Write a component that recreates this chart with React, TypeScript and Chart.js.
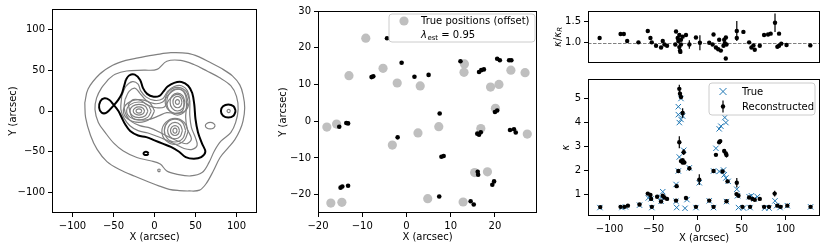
import React, { useEffect, useRef } from 'react';
import { Chart, registerables } from 'chart.js';
Chart.register(...registerables);

const FONT = "'DejaVu Sans', 'Liberation Sans', sans-serif";
const GRAY = '#808080';
const BLUE = '#1f77b4';

// ---------- tick labels ----------
const leftXTicks = [-100, -50, 0, 50, 100];
const leftYTicks = [-100, -50, 0, 50, 100];
const midXTicks = [-20, -10, 0, 10, 20];
const midYTicks = [-20, -10, 0, 10, 20, 30];
const ratioYTicks = [1.0, 1.5];
const kappaXTicks = [-100, -50, 0, 50, 100];
const kappaYTicks = [1, 2, 3, 4, 5];

// ---------- left panel: contour lines [x, y] (arcsec) ----------
const contourOuter = [[-85,10],[-81,27],[-67,45],[-51,56],[-35,62],[-20,65],[2,69],[20,71.5],[41,70.6],[55,66],[67,60],[82,52],[95,43],[104,32],[108,20],[110,4],[108,-12],[104,-24],[98,-35],[90,-45],[80,-57],[72,-73],[63,-89],[55,-97],[42,-98],[30,-97.5],[18,-96],[6,-92],[-7,-87],[-24,-80],[-42,-72],[-58,-62],[-70,-47],[-78,-30],[-84,-8],[-85,10]];
const contourSecond = [[-56,39],[-48,45],[-34,49],[-13,50],[3,51],[15,61],[32,62],[48,57],[64,49],[79,41],[93,31],[100,18],[102,2],[99,-14],[93,-26.5],[81,-37],[73,-49],[66.5,-63],[58,-75.5],[44,-79.6],[28,-77.6],[15,-73.5],[7,-65],[-5,-61],[-21.5,-57],[-38,-49],[-50,-39],[-60,-26.5],[-68.5,-14],[-72.6,2],[-70.6,16],[-64.4,28.6],[-56,39]];
const contourBlack = [[-35,38],[-31,43.5],[-24,44.5],[-17.5,38],[-14,28],[-9,21],[-1,17.5],[6,18.5],[11,24],[16,30],[24,34.5],[33,35.5],[41,31],[46,22],[48.5,8],[50,-10],[53,-26],[58,-40],[62,-50],[57,-56.5],[48,-58.5],[38,-56.5],[30,-50],[20,-44],[10,-40],[0,-36],[-10,-32],[-20,-30],[-29.7,-24.5],[-35.8,-16.3],[-40,-8],[-44,0],[-50.2,8],[-55,13.5],[-61,15.5],[-66,12],[-67.5,4],[-64.5,-2],[-58.5,-2],[-50.5,6],[-44,14],[-40,21],[-37.5,29],[-35,38]];
const contourBlackRight = [[99,0],[96.4,5.7],[90,8],[83.6,5.7],[81,0],[83.6,-5.7],[90,-8],[96.4,-5.7],[99,0]];
const contourBlackSmall = [[-7.4,-52],[-8.3,-50.6],[-10.4,-50],[-12.5,-50.6],[-13.4,-52],[-12.5,-53.4],[-10.4,-54],[-8.3,-53.4],[-7.4,-52]];
const contourGrayRight = [[92.5,0],[91.9,1.4],[90.5,2],[89.1,1.4],[88.5,0],[89.1,-1.4],[90.5,-2],[91.9,-1.4],[92.5,0]];
const contourGrayBlob = [[74,-18],[72.2,-15.2],[68,-14],[63.8,-15.2],[62,-18],[63.8,-20.8],[68,-22],[72.2,-20.8],[74,-18]];
const contourGrayDot = [[7,-72.7],[6.6,-71.6],[5.5,-71.2],[4.4,-71.6],[4,-72.7],[4.4,-73.8],[5.5,-74.2],[6.6,-73.8],[7,-72.7]];
const contourInner1 = [[-40,18],[-35,30],[-27,36],[-20,33],[-17,25],[-10,17],[0,13],[10,15],[16,24],[24,30],[33,31],[40,25],[43,12],[43,-5],[45,-20],[50,-33],[52,-42],[46,-47],[36,-46],[26,-41],[15,-36],[3,-31],[-8,-27],[-20,-24],[-30,-18],[-37,-9],[-41,2],[-40,18]];
const contourInner2 = [[-36,14],[-31,24],[-24,28],[-18,22],[-10,13],[0,9],[10,11],[17,20],[25,26],[33,26],[38,19],[39,6],[38,-8],[40,-22],[45,-34],[40,-40],[31,-38],[20,-33],[8,-27],[-5,-21],[-18,-18],[-28,-13],[-34,-6],[-37,4],[-36,14]];
const contourInner3 = [[-32,8],[-26,14],[-17,13],[-8,7],[2,4],[12,5],[18,14],[26,20],[33,18],[36,9],[34,0],[26,-3],[15,-2],[5,-6],[-5,-10],[-16,-11],[-27,-8],[-32,8]];
const contourA5 = [[0,0],[-5.6,9.9],[-19,14],[-32.4,9.9],[-38,0],[-32.4,-9.9],[-19,-14],[-5.6,-9.9],[0,0]];
const contourA1 = [[-4,0],[-8.4,7.8],[-19,11],[-29.6,7.8],[-34,0],[-29.6,-7.8],[-19,-11],[-8.4,-7.8],[-4,0]];
const contourA2 = [[-8,0],[-11.2,5.7],[-19,8],[-26.8,5.7],[-30,0],[-26.8,-5.7],[-19,-8],[-11.2,-5.7],[-8,0]];
const contourA3 = [[-12,0],[-14,3.5],[-19,5],[-24,3.5],[-26,0],[-24,-3.5],[-19,-5],[-14,-3.5],[-12,0]];
const contourA4 = [[-15.5,0],[-16.5,1.8],[-19,2.5],[-21.5,1.8],[-22.5,0],[-21.5,-1.8],[-19,-2.5],[-16.5,-1.8],[-15.5,0]];
const contourB5 = [[43,12],[38.6,24],[28,29],[17.4,24],[13,12],[17.4,1],[28,-3],[38.6,1],[43,12]];
const contourB1 = [[41,11],[37.2,22.3],[28,27],[18.8,22.3],[15,11],[18.8,-0.3],[28,-5],[37.2,-0.3],[41,11]];
const contourB2 = [[37,11],[34.4,18.8],[28,22],[21.6,18.8],[19,11],[21.6,3.2],[28,0],[34.4,3.2],[37,11]];
const contourB3 = [[33.5,11],[31.9,16],[28,18],[24.1,16],[22.5,11],[24.1,6],[28,4],[31.9,6],[33.5,11]];
const contourB4 = [[30.5,11],[29.8,13.1],[28,14],[26.2,13.1],[25.5,11],[26.2,8.9],[28,8],[29.8,8.9],[30.5,11]];
const contourC5 = [[41,-25],[36.3,-14],[25,-9],[13.7,-14],[9,-25],[13.7,-36],[25,-41],[36.3,-36],[41,-25]];
const contourC1 = [[38,-24],[34.2,-14.1],[25,-10],[15.8,-14.1],[12,-24],[15.8,-33.9],[25,-38],[34.2,-33.9],[38,-24]];
const contourC2 = [[34,-24],[31.4,-16.9],[25,-14],[18.6,-16.9],[16,-24],[18.6,-31.1],[25,-34],[31.4,-31.1],[34,-24]];
const contourC3 = [[30.5,-24],[28.9,-19.8],[25,-18],[21.1,-19.8],[19.5,-24],[21.1,-28.2],[25,-30],[28.9,-28.2],[30.5,-24]];
const contourC4 = [[27.5,-24],[26.8,-21.9],[25,-21],[23.2,-21.9],[22.5,-24],[23.2,-26.1],[25,-27],[26.8,-26.1],[27.5,-24]];

// ---------- middle panel ----------
const trueOffX = [-9.2,-13.0,-5.3,-2.1,3.1,13.0,13.1,19.0,20.9,23.6,26.8,20.1,-18.0,-15.8,2.6,-3.2,7.3,16.8,27.3,15.4,18.3,-17.1,-14.6,4.8,12.8];
const trueOffY = [22.6,12.4,14.4,10.4,9.6,13.3,15.6,9.3,10.0,13.9,13.2,3.5,-1.6,-0.8,-3.2,-6.5,-1.5,-2.0,-3.5,-14.0,-13.8,-22.3,-22.1,-21.1,-22.0];
const recPosX = [-4.4,-1.1,-7.9,-7.5,1.8,5.0,12.2,20.5,21.1,23.2,23.7,16.4,16.9,17.5,7.5,20.0,20.5,-15.2,-13.6,-13.2,-2.0,16.0,16.4,16.8,23.4,24.3,24.7,7.9,8.4,16.1,16.2,19.8,19.4,-14.9,-14.5,-13.2,7.4,14.5,15.2];
const recPosY = [22.6,15.9,12.0,12.2,12.1,12.6,16.3,17.0,16.6,16.6,16.6,13.4,13.9,14.1,2.1,2.5,2.9,-1.5,-0.5,-0.6,-4.4,-3.4,-3.7,-3.0,-2.4,-2.2,-3.1,-9.7,-9.5,-13.8,-14.6,-16.4,-17.3,-18.1,-17.8,-17.6,-20.5,-21.8,-22.7];
const lambdaEst = '0.95';

// ---------- right panels ----------
const trueKX = [-111,-86,-82,-66,-56,-53,-52,-41.5,-39.6,-41.5,-24.5,-23.8,-24.5,-21.9,-20.8,-21.9,-21.9,-20.8,-18.9,-18.9,-17,-15.8,-14.3,-12.1,-9.4,-1.9,1.9,13.2,18.1,18.1,20.8,24.5,26.4,30.9,32.1,29.4,30.2,32.1,34.7,24.5,32.8,44.5,45.3,46.4,52.1,58.5,61.1,64.2,67.9,59.6,76.2,81.1,87.9,89.8,93.6,101.9,128.3];
const trueK = [0.47,0.47,0.5,0.57,0.87,0.83,0.47,0.89,1.13,0.73,0.73,0.47,1.43,1.99,2.57,4.66,4.33,4.0,4.13,5.0,4.27,2.85,0.44,0.8,2.12,0.47,1.5,0.75,0.47,1.99,2.93,3.74,3.85,4.21,4.0,2.03,1.83,1.7,1.56,1.97,0.72,1.23,0.96,0.47,0.45,0.92,0.96,0.83,0.92,0.47,0.45,0.45,0.75,0.55,0.47,0.55,0.5];
const recKX = [-110.6,-87.5,-83,-79.2,-66,-56.6,-53.6,-52.8,-52,-46,-39.6,-41.5,-37.7,-34.7,-24.5,-23.8,-21.9,-20.8,-20.8,-20.0,-18.9,-18.9,-17,-17,-17,-15.8,-15.1,-13.2,-9.4,-1.9,1.9,13.2,18.1,20.8,18.1,24.5,25.7,28.3,30.2,32.1,32.8,34,32.8,44.5,44.2,46.4,50.9,58.5,62.3,64.9,70.6,59.6,75.5,81.1,87.5,90.6,94.3,101.9,128.3];
const recK = [0.49,0.5,0.5,0.55,0.6,1.05,0.99,0.83,0.5,0.92,0.96,0.72,0.89,0.83,0.76,1.36,1.99,3.18,5.4,5.2,5.06,2.4,2.44,2.34,4.4,2.77,2.34,0.87,2.1,0.5,1.63,0.76,1.99,2.66,0.5,3.18,3.23,1.97,2.82,2.72,2.65,1.56,0.73,1.5,1.03,0.96,0.5,0.89,0.83,0.79,0.83,0.5,0.5,0.5,1.05,0.55,0.5,0.55,0.5];
const recKErr = [0,0,0,0,0,0,0,0,0,0,0,0,0,0,0,0.08,0.05,0.25,0.17,0.1,0.08,0.05,0.05,0.05,0.2,0.12,0,0,0.1,0,0.22,0,0.05,0.05,0,0.05,0.05,0.05,0.08,0.08,0.1,0.05,0,0.2,0.05,0,0,0,0,0,0,0,0,0,0.12,0,0,0,0];
const ratioX = [-111.3,-87.5,-83.8,-80,-67.2,-56.6,-53.6,-52.1,-47.2,-41.5,-39.6,-37.7,-34.7,-24.5,-25.3,-22.6,-21.9,-20.8,-20,-20.8,-18.9,-18.9,-17,-19.6,-13.2,-9.4,-1.9,2.6,13.2,18.1,17,20.8,23.4,24.5,26.4,30.2,32.1,32.8,29.4,30.9,32,44.5,44.5,52,58.5,61.1,63.4,64.9,70.6,75.5,80,83,87.9,92.5,90.6,92.5,95,101,128];
const ratioV = [1.11,1.2,1.2,1.04,1.01,1.27,1.11,1.01,0.93,0.89,1.04,0.96,0.93,1.26,0.96,1.11,1.04,0.9,0.82,1.18,0.96,1.07,1.14,0.79,1.18,0.96,1.12,1.0,1.0,1.19,0.96,0.89,0.85,1.07,0.82,1.07,1.12,0.96,0.93,0.99,0.64,1.11,1.27,1.25,1.01,0.89,0.94,0.84,0.93,1.18,1.19,1.21,1.46,1.21,0.91,0.93,0.98,0.95,0.94];
const ratioErr = [0,0,0,0,0,0,0,0,0,0,0,0,0,0.02,0,0.02,0.02,0.03,0.02,0.03,0.03,0,0.02,0,0,0.1,0,0.17,0,0,0,0,0,0,0,0.03,0.03,0,0,0,0,0.03,0.23,0,0,0,0,0,0,0,0,0,0.21,0,0,0,0,0,0];
const ratioRef = 1.0;

// ---------- helpers ----------
const fmt = (dec: number) => (v: number) => {
  const s = Math.abs(v).toFixed(dec);
  return v < 0 ? '\u2212' + s : s;
};
const toPts = (arr: number[][]) => arr.map(([x, y]) => ({ x, y }));
const zipPts = (xs: number[], ys: number[]) => xs.map((x, i) => ({ x, y: ys[i] }));
const errPts = (xs: number[], ys: number[], es: number[]) => {
  const out: any[] = [];
  xs.forEach((x, i) => {
    if (es[i] > 0) {
      out.push({ x, y: ys[i] - es[i] }, { x, y: ys[i] + es[i] }, { x, y: null });
    }
  });
  return out;
};

function axis(o: any) {
  return {
    type: 'linear',
    display: o.display ?? true,
    min: o.min,
    max: o.max,
    afterBuildTicks: (s: any) => { s.ticks = o.ticks.map((v: number) => ({ value: v })); },
    afterFit: (s: any) => { if (o.horizontal) s.height = o.size; else s.width = o.size; },
    grid: { drawOnChartArea: false, drawTicks: true, tickLength: 4, tickColor: '#000', tickWidth: 1 },
    border: { display: false },
    ticks: {
      display: o.labels ?? true,
      color: '#000',
      font: { family: FONT, size: 10 },
      padding: 3,
      autoSkip: false,
      maxRotation: 0,
      minRotation: 0,
      callback: (v: number) => fmt(o.dec ?? 0)(v),
    },
    title: o.title
      ? {
          display: true,
          text: o.title,
          color: '#000',
          font: { family: FONT, size: 10, style: o.italic ? 'italic' : 'normal' },
          padding: o.horizontal ? { top: 0, bottom: o.tpad } : { top: o.tpad, bottom: 0 },
        }
      : { display: false },
  };
}

const boxPlugin = {
  id: 'box',
  afterDatasetsDraw(chart: any) {
    const { ctx, chartArea: a } = chart;
    ctx.save();
    ctx.strokeStyle = '#000';
    ctx.lineWidth = 1;
    ctx.strokeRect(Math.round(a.left) + 0.5, Math.round(a.top) + 0.5, Math.round(a.right - a.left) - 1, Math.round(a.bottom - a.top) - 1);
    ctx.restore();
  },
};

function legendBox(ctx: CanvasRenderingContext2D, x: number, y: number, w: number, h: number) {
  ctx.save();
  ctx.beginPath();
  const r = 3;
  ctx.moveTo(x + r, y);
  ctx.lineTo(x + w - r, y);
  ctx.arcTo(x + w, y, x + w, y + r, r);
  ctx.lineTo(x + w, y + h - r);
  ctx.arcTo(x + w, y + h, x + w - r, y + h, r);
  ctx.lineTo(x + r, y + h);
  ctx.arcTo(x, y + h, x, y + h - r, r);
  ctx.lineTo(x, y + r);
  ctx.arcTo(x, y, x + r, y, r);
  ctx.closePath();
  ctx.fillStyle = 'rgba(255,255,255,0.8)';
  ctx.fill();
  ctx.strokeStyle = '#cccccc';
  ctx.lineWidth = 1;
  ctx.stroke();
  ctx.restore();
}

const baseOpts = (scales: any, padding: any, plugins: any = {}) => ({
  animation: false,
  responsive: false,
  maintainAspectRatio: false,
  events: [],
  layout: { padding },
  plugins: { legend: { display: false }, tooltip: { enabled: false }, ...plugins },
  scales,
});

function contourDs(pts: number[][], color: string, width: number) {
  return {
    data: toPts(pts),
    showLine: true,
    borderColor: color,
    borderWidth: width,
    pointRadius: 0,
    tension: 0.35,
    fill: false,
  };
}

export default function App() {
  const leftRef = useRef<HTMLCanvasElement>(null);
  const midRef = useRef<HTMLCanvasElement>(null);
  const topRef = useRef<HTMLCanvasElement>(null);
  const botRef = useRef<HTMLCanvasElement>(null);

  useEffect(() => {
    document.body.style.margin = '0';
    const charts: Chart[] = [];

    // ---- left contour panel ----
    const grayContours = [contourOuter, contourSecond, contourInner1, contourInner2, contourInner3,
      contourA5, contourA1, contourA2, contourA3, contourA4,
      contourB5, contourB1, contourB2, contourB3, contourB4,
      contourC5, contourC1, contourC2, contourC3, contourC4,
      contourGrayRight, contourGrayBlob, contourGrayDot];
    const blackContours = [contourBlack, contourBlackRight, contourBlackSmall];
    charts.push(new Chart(leftRef.current!, {
      type: 'scatter',
      data: {
        datasets: [
          ...blackContours.map((c) => contourDs(c, '#000', 2)),
          ...grayContours.map((c) => contourDs(c, GRAY, 1.2)),
        ],
      },
      options: baseOpts({
        x: axis({ min: -125, max: 125, ticks: leftXTicks, horizontal: true, size: 38, title: 'X (arcsec)', tpad: 8 }),
        y: axis({ min: -125, max: 125, ticks: leftYTicks, horizontal: false, size: 52, title: 'Y (arcsec)', tpad: 7 }),
      }, { left: 0, top: 9, right: 13, bottom: 0 }),
      plugins: [boxPlugin],
    } as any));

    // ---- middle positions panel ----
    const midLegend = {
      id: 'midLegend',
      afterDraw(chart: any) {
        const { ctx, chartArea: a } = chart;
        const w = 146, h = 28;
        const x0 = a.right - 2 - w, y0 = a.top + 3;
        legendBox(ctx, x0, y0, w, h);
        ctx.save();
        ctx.fillStyle = '#bfbfbf';
        ctx.beginPath();
        ctx.arc(x0 + 15, y0 + 7, 4.6, 0, Math.PI * 2);
        ctx.fill();
        ctx.fillStyle = '#000';
        ctx.textBaseline = 'middle';
        ctx.font = `10px ${FONT}`;
        ctx.fillText('True positions (offset)', x0 + 32, y0 + 7.5);
        let tx = x0 + 32;
        const ty = y0 + 21.5;
        ctx.font = `italic 10px ${FONT}`;
        ctx.fillText('\u03bb', tx, ty);
        tx += ctx.measureText('\u03bb').width;
        ctx.font = `7px ${FONT}`;
        ctx.fillText('est', tx + 0.5, ty + 2.5);
        tx += ctx.measureText('est').width + 0.5;
        ctx.font = `10px ${FONT}`;
        ctx.fillText(' = ' + lambdaEst, tx, ty);
        ctx.restore();
      },
    };
    charts.push(new Chart(midRef.current!, {
      type: 'scatter',
      data: {
        datasets: [
          { data: zipPts(recPosX, recPosY), pointRadius: 2.3, backgroundColor: '#000', borderWidth: 0 },
          { data: zipPts(trueOffX, trueOffY), pointRadius: 4.6, backgroundColor: '#bfbfbf', borderWidth: 0 },
        ],
      },
      options: baseOpts({
        x: axis({ min: -20, max: 29.5, ticks: midXTicks, horizontal: true, size: 38, title: 'X (arcsec)', tpad: 8 }),
        y: axis({ min: -25, max: 30, ticks: midYTicks, horizontal: false, size: 50, title: 'Y (arcsec)', tpad: 9 }),
      }, { left: 0, top: 11, right: 33, bottom: 0 }),
      plugins: [boxPlugin, midLegend],
    } as any));

    // ---- top-right ratio panel ----
    const refLine = {
      id: 'refLine',
      beforeDatasetsDraw(chart: any) {
        const { ctx, chartArea: a, scales } = chart;
        const y = Math.round(scales.y.getPixelForValue(ratioRef)) + 0.5;
        ctx.save();
        ctx.strokeStyle = GRAY;
        ctx.lineWidth = 1;
        ctx.setLineDash([3.5, 1.5]);
        ctx.beginPath();
        ctx.moveTo(a.left, y);
        ctx.lineTo(a.right, y);
        ctx.stroke();
        ctx.restore();
      },
    };
    const ratioLabel = {
      id: 'ratioLabel',
      afterDraw(chart: any) {
        const { ctx, chartArea: a } = chart;
        ctx.save();
        ctx.translate(10, (a.top + a.bottom) / 2);
        ctx.rotate(-Math.PI / 2);
        ctx.fillStyle = '#000';
        ctx.textBaseline = 'middle';
        const parts = [
          { t: '\u03ba', f: `italic 10px ${FONT}`, dy: 0 },
          { t: '/', f: `10px ${FONT}`, dy: 0 },
          { t: '\u03ba', f: `italic 10px ${FONT}`, dy: 0 },
          { t: 'R', f: `italic 7px ${FONT}`, dy: 2.5 },
        ];
        let total = 0;
        parts.forEach((p) => { ctx.font = p.f; total += ctx.measureText(p.t).width; });
        let x = -total / 2;
        parts.forEach((p) => { ctx.font = p.f; ctx.fillText(p.t, x, p.dy); x += ctx.measureText(p.t).width; });
        ctx.restore();
      },
    };
    charts.push(new Chart(topRef.current!, {
      type: 'scatter',
      data: {
        datasets: [
          { data: zipPts(ratioX, ratioV), pointRadius: 2.2, backgroundColor: '#000', borderWidth: 0 },
          { data: errPts(ratioX, ratioV, ratioErr), showLine: true, spanGaps: false, borderColor: '#000', borderWidth: 1.2, pointRadius: 0 },
        ],
      },
      options: baseOpts({
        x: axis({ min: -124.5, max: 139, ticks: kappaXTicks, horizontal: true, size: 0, display: false }),
        y: axis({ min: 0.535, max: 1.73, ticks: ratioYTicks, horizontal: false, size: 40, dec: 1 }),
      }, { left: 0, top: 11, right: 10, bottom: 5 }),
      plugins: [refLine, boxPlugin, ratioLabel],
    } as any));

    // ---- bottom-right kappa panel ----
    const kLegend = {
      id: 'kLegend',
      afterDraw(chart: any) {
        const { ctx, chartArea: a } = chart;
        const w = 106, h = 32;
        const x0 = a.right - 5 - w, y0 = a.top + 4;
        legendBox(ctx, x0, y0, w, h);
        ctx.save();
        const mx = x0 + 14;
        const y1 = y0 + 8.5, y2 = y0 + 23.5;
        ctx.strokeStyle = BLUE;
        ctx.lineWidth = 1;
        ctx.beginPath();
        ctx.moveTo(mx - 3.5, y1 - 3.5); ctx.lineTo(mx + 3.5, y1 + 3.5);
        ctx.moveTo(mx - 3.5, y1 + 3.5); ctx.lineTo(mx + 3.5, y1 - 3.5);
        ctx.stroke();
        ctx.strokeStyle = '#000';
        ctx.lineWidth = 1.2;
        ctx.beginPath();
        ctx.moveTo(mx, y2 - 6); ctx.lineTo(mx, y2 + 6);
        ctx.stroke();
        ctx.fillStyle = '#000';
        ctx.beginPath();
        ctx.arc(mx, y2, 2.2, 0, Math.PI * 2);
        ctx.fill();
        ctx.textBaseline = 'middle';
        ctx.font = `10px ${FONT}`;
        ctx.fillText('True', x0 + 33, y1 + 0.5);
        ctx.fillText('Reconstructed', x0 + 33, y2 + 0.5);
        ctx.restore();
      },
    };
    charts.push(new Chart(botRef.current!, {
      type: 'scatter',
      data: {
        datasets: [
          { data: zipPts(recKX, recK), pointRadius: 2.2, backgroundColor: '#000', borderWidth: 0 },
          { data: errPts(recKX, recK, recKErr), showLine: true, spanGaps: false, borderColor: '#000', borderWidth: 1.2, pointRadius: 0 },
          { data: zipPts(trueKX, trueK), pointStyle: 'crossRot', pointRadius: 3.8, borderColor: BLUE, borderWidth: 1, backgroundColor: BLUE },
        ],
      },
      options: baseOpts({
        x: axis({ min: -124.5, max: 139, ticks: kappaXTicks, horizontal: true, size: 35, title: 'X (arcsec)', tpad: 7 }),
        y: axis({ min: 0.12, max: 5.81, ticks: kappaYTicks, horizontal: false, size: 40, title: '\u03ba', italic: true, tpad: 12 }),
      }, { left: 0, top: 5, right: 10, bottom: 0 }),
      plugins: [boxPlugin, kLegend],
    } as any));

    return () => charts.forEach((c) => c.destroy());
  }, []);

  return (
    <div style={{ position: 'relative', width: 830, height: 251, background: '#fff', overflow: 'hidden' }}>
      <canvas ref={leftRef} width={270} height={251} style={{ position: 'absolute', left: 0, top: 0 }} />
      <canvas ref={midRef} width={302} height={251} style={{ position: 'absolute', left: 268, top: 0 }} />
      <canvas ref={topRef} width={282} height={72} style={{ position: 'absolute', left: 548, top: 0 }} />
      <canvas ref={botRef} width={282} height={181} style={{ position: 'absolute', left: 548, top: 70 }} />
    </div>
  );
}
